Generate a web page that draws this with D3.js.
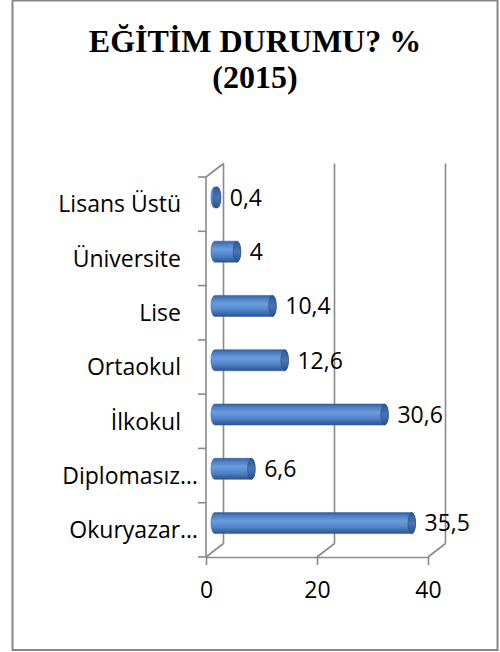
<!DOCTYPE html>
<html>
<head>
<meta charset="utf-8">
<script src="https://cdn.jsdelivr.net/npm/d3@7"></script>
<style>
  body { margin: 0; background: #fff; }
  text { font-family: "Open Sans", sans-serif; fill: #000; }
</style>
</head>
<body>
<script>
// chart data, top to bottom as in the picture
var categories = ["Lisans Üstü", "Üniversite", "Lise", "Ortaokul", "İlkokul", "Diplomasız…", "Okuryazar…"];
var values = [0.4, 4, 10.4, 12.6, 30.6, 6.6, 35.5];
var valueLabels = ["0,4", "4", "10,4", "12,6", "30,6", "6,6", "35,5"];
var xTicks = [0, 20, 40];
var titleLines = ["EĞİTİM DURUMU? %", "(2015)"];

var W = 500, H = 652;
// 3d depth offset of the back wall
var depth = {dx: 17.5, dy: -13.5};

var svg = d3.select("body").append("svg")
    .attr("width", W)
    .attr("height", H);

// outer frame
svg.append("rect")
    .attr("x", 12.5).attr("y", 0.5)
    .attr("width", 485).attr("height", 649.5)
    .attr("fill", "none")
    .attr("stroke", "#878787")
    .attr("stroke-width", 2);

// title
svg.append("g").selectAll("text")
    .data(titleLines)
    .enter().append("text")
    .attr("x", 255)
    .attr("y", function(d, i) { return 52 + i * 36; })
    .attr("text-anchor", "middle")
    .style("font-family", "'Liberation Serif', 'Times New Roman', serif")
    .style("font-weight", "bold")
    .style("font-size", "32px")
    .text(function(d) { return d; });

// scales (front plane)
var x = d3.scaleLinear().domain([0, 40]).range([206, 428]);
var y = d3.scaleBand().domain(categories).range([177, 557]);

var grid = svg.append("g")
    .attr("stroke", "#8a8a8a")
    .attr("stroke-width", 1.6)
    .attr("fill", "none");

// back wall vertical gridlines
grid.selectAll(".vgrid")
    .data(xTicks)
    .enter().append("line")
    .attr("x1", function(d) { return x(d) + depth.dx; })
    .attr("x2", function(d) { return x(d) + depth.dx; })
    .attr("y1", y.range()[0] + depth.dy)
    .attr("y2", y.range()[1] + depth.dy);

// floor diagonals
grid.selectAll(".fgrid")
    .data(xTicks)
    .enter().append("line")
    .attr("x1", function(d) { return x(d); })
    .attr("x2", function(d) { return x(d) + depth.dx; })
    .attr("y1", y.range()[1])
    .attr("y2", y.range()[1] + depth.dy);

// left wall: front edge and top edge
grid.append("line")
    .attr("x1", x(0)).attr("x2", x(0))
    .attr("y1", y.range()[0]).attr("y2", y.range()[1]);
grid.append("line")
    .attr("x1", x(0)).attr("x2", x(0) + depth.dx)
    .attr("y1", y.range()[0]).attr("y2", y.range()[0] + depth.dy);

// category boundary ticks
var bounds = d3.range(categories.length + 1).map(function(i) { return y.range()[0] + i * y.step(); });
grid.selectAll(".ctick")
    .data(bounds)
    .enter().append("line")
    .attr("x1", x(0) - 8).attr("x2", x(0))
    .attr("y1", function(d) { return d; })
    .attr("y2", function(d) { return d; });

// x axis on the front floor edge
var xAxis = svg.append("g")
    .attr("transform", "translate(0," + y.range()[1] + ")")
    .call(d3.axisBottom(x).tickValues(xTicks).tickSize(8).tickSizeOuter(0).tickPadding(17));
xAxis.select(".domain").attr("stroke", "#8a8a8a").attr("stroke-width", 1.6);
xAxis.selectAll(".tick line").attr("stroke", "#8a8a8a").attr("stroke-width", 1.6);
xAxis.selectAll(".tick text")
    .style("font-family", "'Open Sans', sans-serif")
    .style("font-size", "23px")
    .attr("fill", "#000");

// category labels
svg.append("g").selectAll("text")
    .data(categories)
    .enter().append("text")
    .attr("x", function(d) { return d.slice(-1) === "…" ? x(0) - 8 : x(0) - 25; })
    .attr("y", function(d) { return y(d) + y.bandwidth() / 2; })
    .attr("dy", "0.36em")
    .attr("text-anchor", "end")
    .style("font-size", "23px")
    .text(function(d) { return d; });

// cylinder bars
var defs = svg.append("defs");
var grad = defs.append("linearGradient")
    .attr("id", "cyl")
    .attr("x1", 0).attr("y1", 0).attr("x2", 0).attr("y2", 1);
grad.append("stop").attr("offset", "0%").attr("stop-color", "#355f9d");
grad.append("stop").attr("offset", "15%").attr("stop-color", "#4d7fc2");
grad.append("stop").attr("offset", "40%").attr("stop-color", "#6a9de0");
grad.append("stop").attr("offset", "70%").attr("stop-color", "#4f82c6");
grad.append("stop").attr("offset", "100%").attr("stop-color", "#2c538c");

var capGrad = defs.append("linearGradient")
    .attr("id", "cap")
    .attr("x1", 0).attr("y1", 0).attr("x2", 0).attr("y2", 1);
capGrad.append("stop").attr("offset", "0%").attr("stop-color", "#2f5792");
capGrad.append("stop").attr("offset", "50%").attr("stop-color", "#4a74b2");
capGrad.append("stop").attr("offset", "100%").attr("stop-color", "#2d5189");

var r = 10.5, rx = 3.8;
var hx = depth.dx / 2, hy = depth.dy / 2;

var bars = svg.append("g").selectAll("g")
    .data(categories)
    .enter().append("g");

bars.append("path")
    .attr("d", function(d, i) {
        var cy = y(d) + y.bandwidth() / 2 + hy;
        var x0 = x(0) + hx, x1 = x(values[i]) + hx;
        return "M" + x0 + "," + (cy - r) +
            "L" + x1 + "," + (cy - r) +
            "A" + rx + "," + r + " 0 0 1 " + x1 + "," + (cy + r) +
            "L" + x0 + "," + (cy + r) +
            "A" + rx + "," + r + " 0 0 1 " + x0 + "," + (cy - r) + "Z";
    })
    .attr("fill", "url(#cyl)")
    .attr("stroke", "#3b66a6")
    .attr("stroke-width", 0.6);

bars.append("ellipse")
    .attr("cx", function(d, i) { return x(values[i]) + hx; })
    .attr("cy", function(d) { return y(d) + y.bandwidth() / 2 + hy; })
    .attr("rx", rx)
    .attr("ry", r)
    .attr("fill", "url(#cap)")
    .attr("stroke", "#2a4d82")
    .attr("stroke-width", 0.6);

// value labels
bars.append("text")
    .attr("x", function(d, i) { return x(values[i]) + hx + rx + 9; })
    .attr("y", function(d) { return y(d) + y.bandwidth() / 2 + hy; })
    .attr("dy", "0.36em")
    .style("font-size", "23px")
    .text(function(d, i) { return valueLabels[i]; });
</script>
</body>
</html>
